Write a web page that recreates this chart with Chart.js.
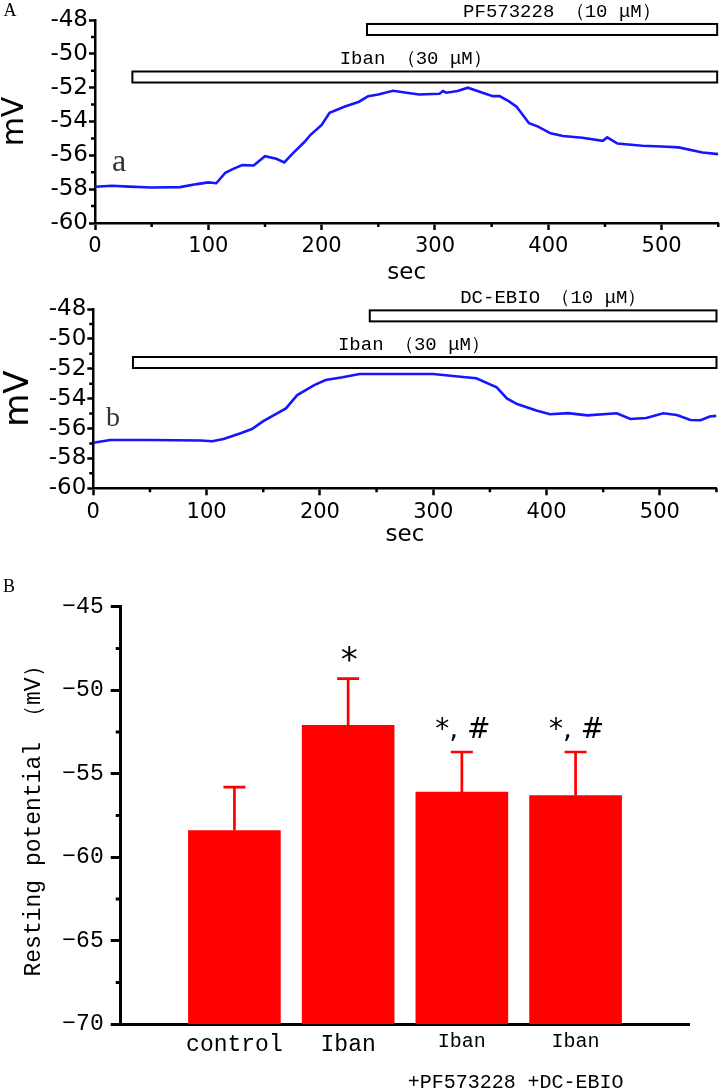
<!DOCTYPE html>
<html>
<head>
<meta charset="utf-8">
<script src="https://cdn.jsdelivr.net/npm/chart.js@4.4.0/dist/chart.umd.min.js"></script>
<style>
body { margin: 0; background: #fff; }
#wrap { position: relative; width: 722px; height: 1092px; }
canvas { position: absolute; left: 0; }
</style>
</head>
<body>
<div id="wrap">
  <canvas id="traceA" width="722" height="285" style="top:0"></canvas>
  <canvas id="traceB" width="722" height="270" style="top:285px"></canvas>
  <canvas id="bars" width="722" height="537" style="top:555px"></canvas>
</div>
<script>
// trace a : Iban, then PF573228 added
var secA = [0, 15, 30, 50, 75, 90, 100, 107, 115, 122, 130, 140, 150, 160, 167, 175, 185, 190, 200, 207,
  220, 233, 241, 250, 263, 275, 286, 304, 307, 310, 320, 329, 340, 351, 357, 365, 372, 383, 391, 402,
  413, 430, 448, 452, 461, 483, 500, 515, 536, 550]
var mvA = [-57.86, -57.8, -57.85, -57.9, -57.88, -57.7, -57.6, -57.65, -57.03, -56.8, -56.58, -56.6, -56.05, -56.2, -56.42, -55.85, -55.2, -54.8, -54.2, -53.48,
  -53.13, -52.83, -52.5, -52.4, -52.18, -52.3, -52.4, -52.36, -52.2, -52.3, -52.2, -52.0, -52.25, -52.5, -52.5, -52.8, -53.13, -54.1, -54.3, -54.7,
  -54.86, -54.96, -55.14, -54.94, -55.3, -55.43, -55.48, -55.53, -55.83, -55.93]

// trace b : Iban, then DC-EBIO added
var secB = [0, 15, 50, 95, 105, 115, 130, 140, 150, 170, 180, 195, 205, 220, 235, 274, 300, 324, 338, 356,
  365, 374, 391, 403, 419, 436, 462, 474, 488, 503, 515, 527, 536, 544, 550]
var mvB = [-56.95, -56.77, -56.77, -56.8, -56.85, -56.7, -56.32, -56.03, -55.5, -54.65, -53.76, -53.09, -52.75, -52.57, -52.35, -52.35, -52.35, -52.53, -52.64, -53.24,
  -53.98, -54.36, -54.8, -55.04, -54.97, -55.12, -54.98, -55.36, -55.3, -54.98, -55.1, -55.43, -55.45, -55.2, -55.15]

// drug application bars: sec from / to, level in mV
var drugNamesA = ['PF573228 （10 μM）', 'Iban （30 μM）']
var drugFromA = [240, 33]
var drugToA = [549, 549]
var drugLevelA = [-48.56, -51.37]
var drugNamesB = ['DC-EBIO （10 μM）', 'Iban （30 μM）']
var drugFromB = [244, 35]
var drugToB = [550, 550]
var drugLevelB = [-48.46, -51.58]

var traceTicksX = [0, 100, 200, 300, 400, 500]
var traceMinorX = [50, 150, 250, 350, 450, 550]
var traceTicksY = [-60, -58, -56, -54, -52, -50, -48]
var traceMinorY = [-59, -57, -55, -53, -51, -49]

// panel B
var groups = ['control', 'Iban', ['Iban', '+PF573228'], ['Iban', '+DC-EBIO']]
var restMean = [-58.4, -52.1, -56.1, -56.3]
var restErr = [2.6, 2.8, 2.4, 2.6]
var sigMarks = ['', '*', '*, #', '*, #']
var barTicksY = [-70, -65, -60, -55, -50, -45]
var barMinorY = [-67.5, -62.5, -57.5, -52.5, -47.5]

function minorTicks(xs, ys, len, width) {
  return {
    id: 'minorTicks',
    afterDraw: function(chart) {
      var ctx = chart.ctx, a = chart.chartArea
      ctx.save()
      ctx.strokeStyle = '#000'
      ctx.lineWidth = width
      ctx.beginPath()
      xs.forEach(function(v) {
        var p = chart.scales.x.getPixelForValue(v)
        ctx.moveTo(p, a.bottom); ctx.lineTo(p, a.bottom + len)
      })
      ys.forEach(function(v) {
        var p = chart.scales.y.getPixelForValue(v)
        ctx.moveTo(a.left - len, p); ctx.lineTo(a.left, p)
      })
      ctx.stroke()
      ctx.restore()
    }
  }
}

function drugBars(names, from, to, level, textAt) {
  return {
    id: 'drugBars',
    afterDraw: function(chart) {
      var ctx = chart.ctx, xs = chart.scales.x, ys = chart.scales.y
      ctx.save()
      for (var i = 0; i < names.length; i++) {
        var x1 = xs.getPixelForValue(from[i]), x2 = xs.getPixelForValue(to[i])
        var y = ys.getPixelForValue(level[i])
        ctx.fillStyle = '#fff'
        ctx.strokeStyle = '#000'
        ctx.lineWidth = 2
        ctx.fillRect(x1, y - 5.5, x2 - x1, 11)
        ctx.strokeRect(x1, y - 5.5, x2 - x1, 11)
        ctx.fillStyle = '#000'
        ctx.font = '19px "Liberation Mono"'
        ctx.textAlign = 'center'
        ctx.textBaseline = 'middle'
        ctx.fillText(names[i], xs.getPixelForValue(textAt[i]), y - 18)
      }
      ctx.restore()
    }
  }
}

function letters(items) {
  return {
    id: 'letters',
    afterDraw: function(chart) {
      var ctx = chart.ctx
      ctx.save()
      items.forEach(function(t) {
        ctx.font = t.font
        ctx.fillStyle = t.color || '#000'
        ctx.textAlign = 'center'
        ctx.textBaseline = 'middle'
        ctx.fillText(t.text, t.x, t.y)
      })
      ctx.restore()
    }
  }
}

function traceChart(id, secs, mvs, o, plugins) {
  var pts = secs.map(function(s, i) { return { x: s, y: mvs[i] } })
  return new Chart(document.getElementById(id), {
    type: 'line',
    data: { datasets: [{ data: pts, borderColor: '#1515ff', borderWidth: 2.6, pointRadius: 0, tension: 0, fill: false }] },
    options: {
      responsive: false,
      animation: false,
      events: [],
      layout: { padding: { top: o.top, right: o.right, left: 0, bottom: 0 } },
      plugins: { legend: { display: false }, tooltip: { enabled: false } },
      scales: {
        x: {
          type: 'linear', min: 0, max: 550,
          afterBuildTicks: function(s) { s.ticks = traceTicksX.map(function(v) { return { value: v } }) },
          afterFit: function(s) { s.height = o.xh },
          grid: { drawOnChartArea: false, tickLength: 7, tickWidth: 2.5, color: '#000' },
          border: { color: '#000', width: 2.5 },
          ticks: { color: '#000', padding: o.xpad, maxRotation: 0, autoSkip: false, font: { family: 'DejaVu Sans', size: 21 } },
          title: { display: true, text: 'sec', color: '#000', padding: { top: 0, bottom: o.secPad },
                   font: { family: 'DejaVu Sans', size: 23, lineHeight: 1 } }
        },
        y: {
          min: -60, max: -48,
          afterBuildTicks: function(s) { s.ticks = traceTicksY.map(function(v) { return { value: v } }) },
          afterFit: function(s) { s.width = o.yw },
          grid: { drawOnChartArea: false, tickLength: 6, tickWidth: 2.5, color: '#000' },
          border: { color: '#000', width: 2.5 },
          ticks: { color: '#000', padding: 1, autoSkip: false, font: { family: 'DejaVu Sans', size: 23, lineHeight: 1 } },
          title: { display: true, text: 'mV', color: '#000', padding: { top: o.mvPad, bottom: 0 },
                   font: { family: 'DejaVu Sans', size: o.mvSize, lineHeight: 1 } }
        }
      }
    },
    plugins: plugins
  })
}

traceChart('traceA', secA, mvA,
  { top: 20, right: 3.7, xh: 62, yw: 95, xpad: 4, secPad: 0, mvPad: 0, mvSize: 30 },
  [minorTicks(traceMinorX, traceMinorY, 4, 2.5),
   drugBars(drugNamesA, drugFromA, drugToA, drugLevelA, [412, 283]),
   letters([{ text: 'A', x: 10, y: 11, font: '18px "Liberation Serif"' },
            { text: 'a', x: 119, y: 163, font: '32px "Liberation Serif"', color: '#333' }])])

traceChart('traceB', secB, mvB,
  { top: 24, right: 5.5, xh: 66.7, yw: 93.3, xpad: 5, secPad: 8, mvPad: 2, mvSize: 34 },
  [minorTicks(traceMinorX, traceMinorY, 4, 2.5),
   drugBars(drugNamesB, drugFromB, drugToB, drugLevelB, [406, 283]),
   letters([{ text: 'b', x: 113, y: 134, font: '28px "Liberation Serif"', color: '#333' }])])

// panel B: resting potential bars
var errorBars = {
  id: 'errorBars',
  afterDatasetsDraw: function(chart) {
    var ctx = chart.ctx, xs = chart.scales.x, ys = chart.scales.y
    ctx.save()
    restMean.forEach(function(m, i) {
      var x = xs.getPixelForValue(i + 1)
      var y0 = ys.getPixelForValue(m), y1 = ys.getPixelForValue(m + restErr[i])
      ctx.strokeStyle = '#ff0000'
      ctx.lineWidth = 2.7
      ctx.beginPath()
      ctx.moveTo(x, y0); ctx.lineTo(x, y1)
      ctx.moveTo(x - 11, y1); ctx.lineTo(x + 11, y1)
      ctx.stroke()
      if (sigMarks[i]) {
        var single = sigMarks[i].length === 1
        ctx.fillStyle = '#000'
        ctx.font = (single ? '34px' : '28px') + ' "DejaVu Sans"'
        ctx.textAlign = 'center'
        ctx.textBaseline = 'alphabetic'
        ctx.fillText(sigMarks[i], x + 1, y1 - (single ? 8 : 14))
      }
    })
    ctx.restore()
  }
}

new Chart(document.getElementById('bars'), {
  type: 'bar',
  data: {
    labels: [''].concat(groups, ['']),
    datasets: [{ data: [null].concat(restMean, [null]), base: -70, backgroundColor: '#ff0000', borderWidth: 0, barThickness: 92 }]
  },
  options: {
    responsive: false,
    animation: false,
    events: [],
    layout: { padding: { top: 51.7, right: 32.7, left: 0, bottom: 0 } },
    plugins: { legend: { display: false }, tooltip: { enabled: false } },
    scales: {
      x: {
        type: 'category', offset: false,
        afterFit: function(s) { s.height = 67.7 },
        grid: { display: false, drawTicks: false },
        border: { color: '#000', width: 3 },
        ticks: {
          color: '#000', padding: -3, autoSkip: false, maxRotation: 0,
          font: function(c) { return { family: 'Liberation Mono', size: c.index < 3 ? 23 : 20, lineHeight: 2.05 } }
        }
      },
      y: {
        min: -70, max: -45,
        afterBuildTicks: function(s) { s.ticks = barTicksY.map(function(v) { return { value: v } }) },
        afterFit: function(s) { s.width = 120.7 },
        grid: { drawOnChartArea: false, tickLength: 10, tickWidth: 3, color: '#000' },
        border: { color: '#000', width: 3 },
        ticks: { color: '#000', padding: 7, autoSkip: false, font: { family: 'Liberation Mono', size: 23 },
                 callback: function(v) { return '\u2212' + Math.abs(v) } },
        title: { display: true, text: 'Resting potential （mV）', color: '#000', padding: { top: 22, bottom: 0 },
                 font: { family: 'Liberation Mono', size: 23, lineHeight: 1 } }
      }
    }
  },
  plugins: [errorBars, minorTicks([], barMinorY, 5, 3),
            letters([{ text: 'B', x: 9, y: 32, font: '18px "Liberation Serif"' }])]
})
</script>
</body>
</html>
